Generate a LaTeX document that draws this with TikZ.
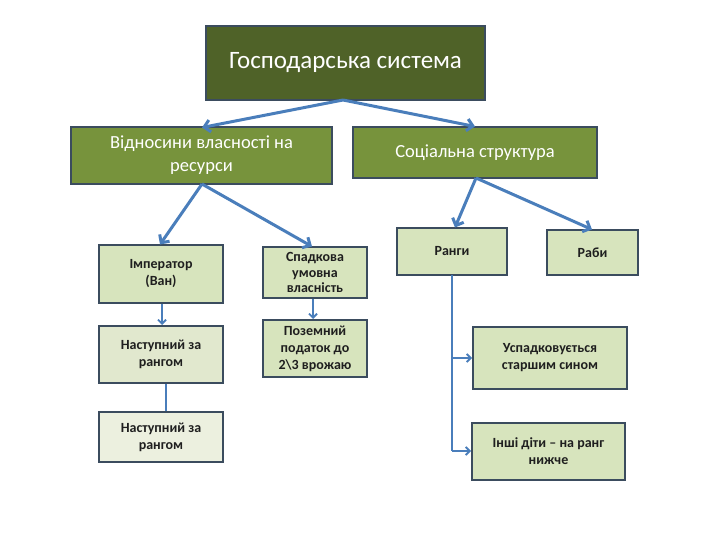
\documentclass[tikz,border=0pt]{standalone}
\usepackage{fontspec}
\setmainfont{Carlito}
\usetikzlibrary{arrows.meta}
\definecolor{topgreen}{HTML}{4F6228}
\definecolor{midgreen}{HTML}{77933C}
\definecolor{lightgreen}{HTML}{D7E4BD}
\definecolor{palegreenA}{HTML}{E1E8CE}
\definecolor{palegreenB}{HTML}{ECF0DF}
\definecolor{bordc}{HTML}{3B4C5E}
\definecolor{arrowblue}{HTML}{4A7EBB}
\tikzset{
  box/.style={draw=bordc, line width=2.2pt, inner sep=0pt, align=center},
  bigbox/.style={box, text=white, font=\fontsize{18.5}{23}\selectfont},
  smallbox/.style={box, line width=2pt, fill=lightgreen, text=black!88, font=\bfseries\fontsize{14}{17}\selectfont},
  thick arrow/.style={draw=arrowblue, line width=3pt, -{Straight Barb[length=6pt,width=12pt]}},
  thin arrow/.style={draw=arrowblue, line width=1.8pt, -{Straight Barb[length=4pt,width=8pt]}},
  thin line/.style={draw=arrowblue, line width=1.8pt},
}
\begin{document}
\begin{tikzpicture}[x=1pt,y=-1pt]
\useasboundingbox (0,0) rectangle (720,540);
% boxes
\node[bigbox, fill=topgreen, minimum width=279pt, minimum height=74pt, font=\fontsize{25}{28}\selectfont] (top) at (345.5,63) {Господарська система};
\node[bigbox, fill=midgreen, minimum width=261pt, minimum height=57pt] (vidn) at (201.5,155.5) {Відносини власності на\\ресурси};
\node[bigbox, fill=midgreen, minimum width=244pt, minimum height=51pt] (soc) at (475,152.5) {Соціальна структура};
\node[smallbox, minimum width=124pt, minimum height=58pt] (imp) at (161,274) {Імператор\\(Ван)};
\node[smallbox, fill=palegreenA, minimum width=124pt, minimum height=57pt] (nast1) at (161,354.5) {Наступний за\\рангом};
\node[smallbox, fill=palegreenB, minimum width=124pt, minimum height=50pt] (nast2) at (161,437) {Наступний за\\рангом};
\node[smallbox, minimum width=104pt, minimum height=51pt, font=\bfseries\fontsize{14}{15.5}\selectfont] (spad) at (315,272.5) {Спадкова\\умовна\\власність};
\node[smallbox, minimum width=104pt, minimum height=57pt] (pozem) at (315,348.5) {Поземний\\податок до\\2\textbackslash3 врожаю};
\node[smallbox, minimum width=110pt, minimum height=47pt] (rangy) at (452,251.5) {Ранги};
\node[smallbox, minimum width=91pt, minimum height=45pt] (raby) at (592.5,252.5) {Раби};
\node[smallbox, minimum width=154pt, minimum height=62pt] (uspad) at (550,358) {Успадковується\\старшим сином};
\node[smallbox, minimum width=153pt, minimum height=57pt] (inshi) at (548.5,451.5) {Інші діти – на ранг\\нижче};
% connector points
\coordinate (topo) at (343,100);
\coordinate (vidno) at (202,184);
\coordinate (soco) at (476,178);
\coordinate (rtrunk) at (452,275);
\coordinate (rcorner) at (452,451);
% thick arrows
\draw[thick arrow] (topo) -- (202,127.5);
\draw[thick arrow] (topo) -- (475,126.5);
\draw[thick arrow] (vidno) -- (160,244.5);
\draw[thick arrow] (vidno) -- (312,246.5);
\draw[thick arrow] (soco) -- (455,227.5);
\draw[thick arrow] (soco) -- (592,229.5);
% thin connectors
\draw[thin arrow] (imp.south -| 162,0) -- (nast1.north -| 162,0);
\draw[thin line] (nast1.south -| 166,0) -- (nast2.north -| 166,0);
\draw[thin arrow] (spad.south -| 313,0) -- (pozem.north -| 313,0);
\draw[thin line] (rtrunk) -- (rcorner);
\draw[thin arrow] (rcorner) -- (inshi.west |- rcorner);
\draw[thin arrow] (452,358) -- (uspad.west |- 0,358);
\end{tikzpicture}
\end{document}
